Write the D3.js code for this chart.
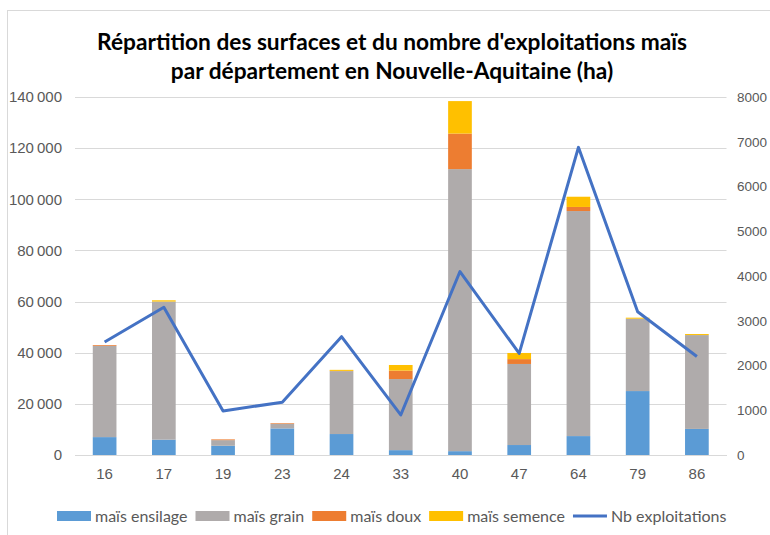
<!DOCTYPE html>
<html>
<head>
<meta charset="utf-8">
<script src="https://cdn.jsdelivr.net/npm/d3@7"></script>
<style>
  body { margin: 0; background: #fff; }
  svg { display: block; font-family: Lato, "Open Sans", sans-serif; }
</style>
</head>
<body>
<div id="chart"></div>
<script>
// Données
const departements = ["16", "17", "19", "23", "24", "33", "40", "47", "64", "79", "86"];
const ensilage = [7000, 6000, 3600, 10400, 8200, 1900, 1500, 3900, 7400, 25000, 10200];
const grain    = [35700, 54000, 2200, 1800, 24600, 27800, 110300, 31700, 88000, 28300, 36700];
const doux     = [300, 0, 300, 250, 100, 3300, 13900, 1900, 1600, 0, 0];
const semence  = [0, 500, 0, 0, 400, 2200, 12700, 2400, 4000, 400, 400];
const nbExploitations = [2525, 3300, 985, 1180, 2645, 895, 4100, 2270, 6875, 3200, 2200];

const leftTicks = [0, 20000, 40000, 60000, 80000, 100000, 120000, 140000];
const rightTicks = [0, 1000, 2000, 3000, 4000, 5000, 6000, 7000, 8000];

const seriesNames = ["maïs ensilage", "maïs grain", "maïs doux", "maïs semence"];
const colors = ["#5b9bd5", "#afabab", "#ed7d31", "#ffc000"];
const lineColor = "#4472c4";

const width = 770, height = 535;
const margin = { top: 97, right: 44, bottom: 80, left: 75 };

const svg = d3.select("#chart")
  .append("svg")
    .attr("width", width)
    .attr("height", height);

// cadre du graphique
svg.append("rect")
  .attr("x", 7.5).attr("y", 10.5)
  .attr("width", 800).attr("height", 600)
  .attr("fill", "none")
  .attr("stroke", "#d9d9d9");

const table = departements.map((d, i) => ({
  dep: d,
  "maïs ensilage": ensilage[i],
  "maïs grain": grain[i],
  "maïs doux": doux[i],
  "maïs semence": semence[i],
  nb: nbExploitations[i]
}));

const x = d3.scaleBand()
  .domain(departements)
  .range([margin.left, width - margin.right + 0.5])
  .paddingInner(0.6)
  .paddingOuter(0.3);

const y = d3.scaleLinear()
  .domain([0, 140000])
  .range([height - margin.bottom, margin.top]);

const y2 = d3.scaleLinear()
  .domain([0, 8000])
  .range([height - margin.bottom, margin.top]);

// grille
svg.append("g")
  .selectAll("line")
  .data(leftTicks)
  .join("line")
    .attr("x1", margin.left)
    .attr("x2", width - margin.right + 0.5)
    .attr("y1", d => Math.round(y(d)) + 0.5)
    .attr("y2", d => Math.round(y(d)) + 0.5)
    .attr("stroke", "#d9d9d9");

// axe gauche
const fmt = d => d3.format(",")(d).replace(/,/g, "\u202f");
const yAxis = svg.append("g")
  .attr("transform", `translate(${margin.left - 10},0)`)
  .call(d3.axisLeft(y).tickValues(leftTicks).tickFormat(fmt).tickSize(0));
yAxis.select(".domain").remove();
yAxis.selectAll("text")
  .attr("fill", "#595959")
  .style("font-size", "15px");

// axe droit
const y2Axis = svg.append("g")
  .attr("transform", `translate(${width - margin.right + 8},0)`)
  .call(d3.axisRight(y2).tickValues(rightTicks).tickFormat(d3.format("d")).tickSize(0));
y2Axis.select(".domain").remove();
y2Axis.selectAll("text")
  .attr("fill", "#595959")
  .style("font-size", "13.5px");

// barres empilées
const stack = d3.stack().keys(seriesNames);
const stacked = stack(table);

svg.append("g")
  .selectAll("g")
  .data(stacked)
  .join("g")
    .attr("fill", (d, i) => colors[i])
  .selectAll("rect")
  .data(d => d)
  .join("rect")
    .attr("x", d => x(d.data.dep))
    .attr("width", x.bandwidth())
    .attr("y", d => y(d[1]))
    .attr("height", d => y(d[0]) - y(d[1]));

// axe x
const xAxis = svg.append("g")
  .attr("transform", `translate(0,${height - margin.bottom})`)
  .call(d3.axisBottom(x).tickSize(0).tickPadding(13));
xAxis.select(".domain")
  .attr("stroke", "#d9d9d9");
xAxis.selectAll("text")
  .attr("fill", "#595959")
  .style("font-size", "15px");

// courbe nb exploitations
const line = d3.line()
  .x(d => x(d.dep) + x.bandwidth() / 2)
  .y(d => y2(d.nb));

svg.append("path")
  .datum(table)
  .attr("fill", "none")
  .attr("stroke", lineColor)
  .attr("stroke-width", 3)
  .attr("stroke-linejoin", "round")
  .attr("d", line);

// titre
const title = svg.append("text")
  .attr("x", 392)
  .attr("y", 50)
  .attr("text-anchor", "middle")
  .style("font-size", "22.7px")
  .style("font-weight", "bold")
  .attr("fill", "#000");
title.append("tspan").attr("x", 392).text("Répartition des surfaces et du nombre d'exploitations maïs");
title.append("tspan").attr("x", 392).attr("dy", 29).text("par département en Nouvelle-Aquitaine (ha)");

// légende
const legendItems = seriesNames.map((n, i) => ({ name: n, color: colors[i], type: "rect" }))
  .concat([{ name: "Nb exploitations", color: lineColor, type: "line" }]);

const legend = svg.append("g")
  .attr("transform", `translate(0,${516})`);

let lx = 57;
legendItems.forEach(item => {
  const g = legend.append("g").attr("transform", `translate(${lx},0)`);
  if (item.type === "rect") {
    g.append("rect")
      .attr("x", 0).attr("y", -5)
      .attr("width", 34).attr("height", 10)
      .attr("fill", item.color);
  } else {
    g.append("line")
      .attr("x1", 0).attr("x2", 34)
      .attr("stroke", item.color)
      .attr("stroke-width", 3);
  }
  const t = g.append("text")
    .attr("x", 38)
    .attr("dy", "0.35em")
    .attr("fill", "#595959")
    .style("font-size", "16px")
    .text(item.name);
  lx += 38 + t.node().getComputedTextLength() + 8;
});
</script>
</body>
</html>
